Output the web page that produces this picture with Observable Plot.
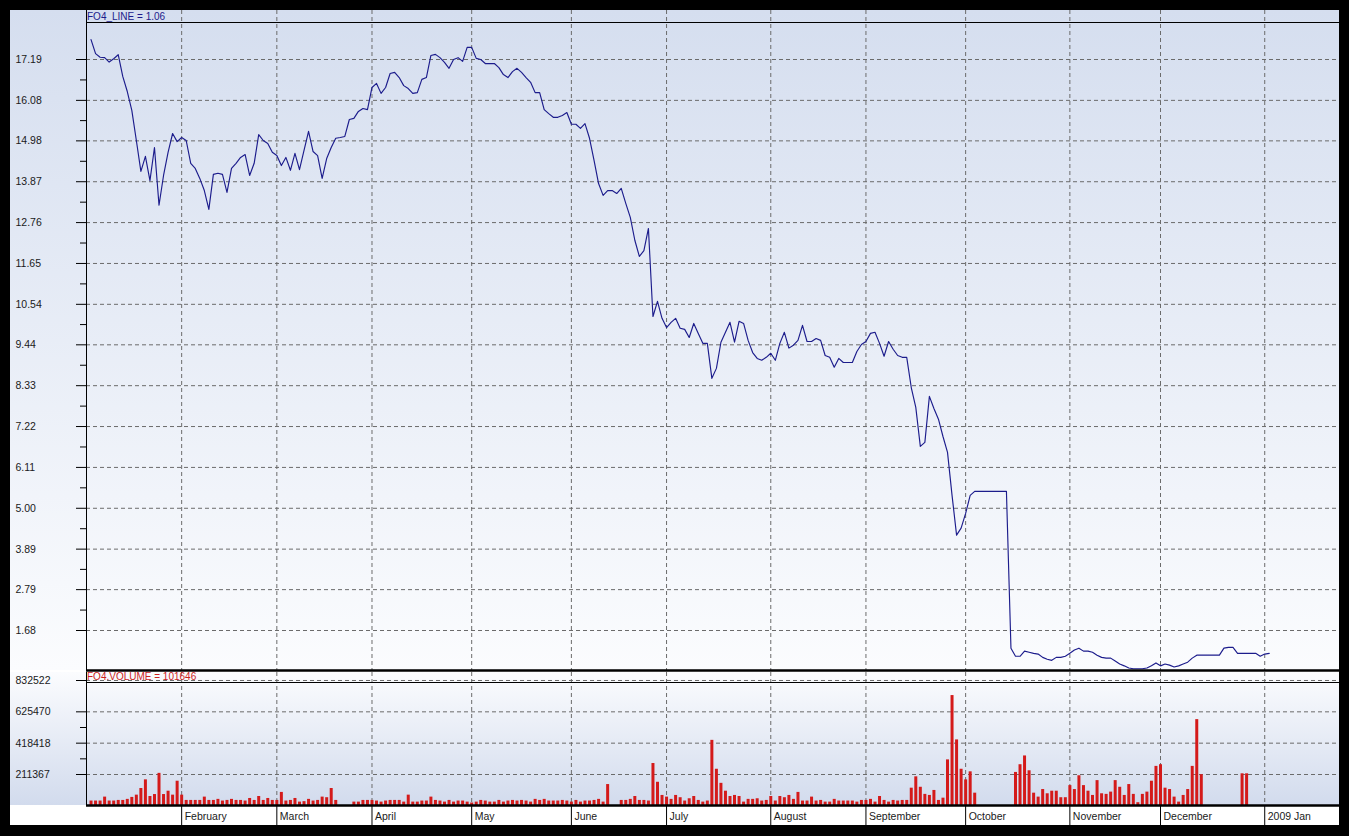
<!DOCTYPE html>
<html>
<head>
<meta charset="utf-8">
<script src="https://cdn.jsdelivr.net/npm/d3@7"></script>
<script src="https://cdn.jsdelivr.net/npm/@observablehq/plot@0.6"></script>
<style>
html,body{margin:0;padding:0;background:#000;width:1349px;height:836px;overflow:hidden;font-family:"Liberation Sans",Arial,sans-serif;}
#frame{position:absolute;left:10px;top:10px;width:1329px;height:815px;}
#pricebg{position:absolute;left:0;top:0;width:1329px;height:660px;background:linear-gradient(#d5deef,#fbfcfe);}
#volbg{position:absolute;left:0;top:662px;width:1329px;height:133px;background:linear-gradient(#fbfcfe,#d2dbed);}
#axisbg{position:absolute;left:0;top:795px;width:1329px;height:20px;background:#fff;}
#sep{position:absolute;left:0;top:660px;width:1329px;height:2px;background:#fff;}
#price{position:absolute;left:0;top:0;}
#vol{position:absolute;left:0;top:662px;}
.hline{position:absolute;left:76px;width:1253px;height:1px;background:#000;}
.head{position:absolute;left:77px;font-size:10px;line-height:10px;white-space:nowrap;}
</style>
</head>
<body>
<div id="frame">
  <div id="pricebg"></div>
  <div id="sep"></div>
  <div id="volbg"></div>
  <div id="axisbg"></div>
  <div id="price"></div>
  <div id="vol"></div>
  <div class="hline" style="top:12px"></div>
  <div class="hline" style="top:672px"></div>
  <div class="head" id="priceHead" style="top:2px;color:#1c1c8c"></div>
  <div class="head" id="volHead" style="top:662px;color:#cc1f1f"></div>
</div>
<script>
// ---------- data ----------
const seriesName = "FO4";
const firstDay = 1; // weekday index of the first point (index 0 = 3 Jan 2008)
const monthStarts = [21, 42, 63, 85, 107, 128, 151, 172, 194, 217, 237, 260];
const monthLabels = ["February","March","April","May","June","July","August","September","October","November","December","2009 Jan"];
const priceTicks = [1.68, 2.79, 3.89, 5.00, 6.11, 7.22, 8.33, 9.44, 10.54, 11.65, 12.76, 13.87, 14.98, 16.08, 17.19];
const volumeTicks = [211367, 418418, 625470, 832522];
const lastLine = 1.06;
const lastVolume = 101646;

const closePrices = [
  17.73, 17.35, 17.25, 17.24, 17.12, 17.21, 17.32, 16.73, 16.32, 15.81,
  14.99, 14.15, 14.56, 13.90, 14.80, 13.23, 14.04, 14.67, 15.18, 14.96,
  15.07, 14.99, 14.37, 14.23, 13.96, 13.63, 13.12, 14.07, 14.10, 14.07,
  13.58, 14.23, 14.37, 14.53, 14.61, 14.04, 14.37, 15.15, 14.99, 14.91,
  14.67, 14.58, 14.31, 14.53, 14.18, 14.64, 14.20, 14.72, 15.24, 14.69,
  14.58, 13.96, 14.50, 14.80, 15.05, 15.07, 15.10, 15.56, 15.59, 15.78,
  15.86, 15.83, 16.43, 16.54, 16.27, 16.43, 16.81, 16.84, 16.70, 16.48,
  16.40, 16.27, 16.29, 16.65, 16.70, 17.30, 17.33, 17.24, 17.11, 16.95,
  17.19, 17.24, 17.14, 17.52, 17.52, 17.22, 17.19, 17.08, 17.08, 17.08,
  16.97, 16.78, 16.70, 16.86, 16.95, 16.84, 16.70, 16.57, 16.29, 16.29,
  15.83, 15.72, 15.62, 15.62, 15.67, 15.75, 15.43, 15.43, 15.32, 15.45,
  15.05, 14.45, 13.82, 13.50, 13.63, 13.63, 13.55, 13.69, 13.28, 12.90,
  12.28, 11.84, 12.00, 12.60, 10.21, 10.62, 10.16, 9.91, 10.05, 10.16,
  9.89, 9.86, 9.64, 10.02, 9.75, 9.48, 9.48, 8.53, 8.80, 9.51,
  9.78, 10.05, 9.51, 10.08, 10.02, 9.56, 9.23, 9.07, 9.02, 9.10,
  9.21, 9.02, 9.48, 9.78, 9.35, 9.43, 9.56, 9.97, 9.53, 9.53,
  9.61, 9.56, 9.15, 9.10, 8.83, 9.07, 8.96, 8.96, 8.96, 9.26,
  9.45, 9.53, 9.75, 9.78, 9.48, 9.13, 9.53, 9.32, 9.15, 9.10,
  9.10, 8.28, 7.74, 6.68, 6.79, 8.04, 7.71, 7.42, 6.95, 6.52,
  5.35, 4.27, 4.46, 4.86, 5.35, 5.46, 5.46, 5.46, 5.46, 5.46,
  5.46, 5.46, 5.46, 1.20, 0.98, 0.98, 1.12, 1.09, 1.06, 1.04,
  0.95, 0.90, 0.87, 0.95, 0.95, 0.98, 1.06, 1.15, 1.20, 1.12,
  1.12, 1.09, 1.01, 0.95, 0.93, 0.93, 0.85, 0.77, 0.72, 0.66,
  0.64, 0.64, 0.64, 0.66, 0.72, 0.80, 0.72, 0.77, 0.74, 0.69,
  0.72, 0.77, 0.82, 0.93, 1.01, 1.01, 1.01, 1.01, 1.01, 1.01,
  1.20, 1.22, 1.22, 1.06, 1.06, 1.06, 1.06, 1.06, 0.98, 1.04,
  1.06
];

const volumes = [
  36000, 36000, 36000, 62000, 36000, 36000, 40000, 40000, 47000, 60000,
  75000, 119000, 176000, 66000, 79000, 219000, 79000, 101000, 75000, 167000,
  75000, 40000, 40000, 40000, 40000, 62000, 40000, 40000, 47000, 36000,
  40000, 47000, 40000, 40000, 36000, 53000, 40000, 66000, 40000, 53000,
  40000, 40000, 93000, 36000, 40000, 53000, 29000, 32000, 47000, 36000,
  40000, 62000, 58000, 119000, 40000, 0, 0, 0, 29000, 29000,
  40000, 40000, 40000, 36000, 29000, 36000, 40000, 40000, 40000, 29000,
  75000, 29000, 29000, 36000, 36000, 62000, 40000, 36000, 29000, 40000,
  29000, 36000, 36000, 29000, 23000, 29000, 40000, 36000, 29000, 29000,
  40000, 29000, 36000, 40000, 36000, 40000, 36000, 29000, 47000, 40000,
  47000, 36000, 36000, 36000, 40000, 36000, 29000, 40000, 29000, 36000,
  36000, 40000, 47000, 29000, 145000, 0, 0, 40000, 40000, 47000,
  66000, 40000, 40000, 36000, 284000, 160000, 73000, 62000, 47000, 73000,
  58000, 36000, 51000, 66000, 40000, 29000, 36000, 437000, 246000, 153000,
  101000, 66000, 73000, 66000, 29000, 47000, 47000, 51000, 36000, 40000,
  66000, 36000, 66000, 58000, 73000, 47000, 93000, 36000, 36000, 62000,
  36000, 40000, 29000, 29000, 47000, 36000, 36000, 36000, 36000, 29000,
  40000, 40000, 47000, 29000, 66000, 40000, 29000, 40000, 36000, 40000,
  40000, 121000, 196000, 127000, 80000, 73000, 106000, 40000, 55000, 308000,
  733000, 440000, 246000, 176000, 229000, 88000, 0, 0, 0, 0,
  0, 0, 0, 0, 225000, 276000, 334000, 236000, 88000, 62000,
  112000, 84000, 101000, 101000, 58000, 58000, 138000, 112000, 203000, 138000,
  101000, 73000, 171000, 84000, 80000, 95000, 171000, 127000, 73000, 145000,
  80000, 25000, 80000, 95000, 167000, 265000, 276000, 121000, 112000, 62000,
  29000, 73000, 112000, 265000, 574000, 210000, 0, 0, 0, 0,
  0, 0, 0, 0, 216000, 216000, 0, 0, 0, 0,
  0
];

// ---------- table ----------
const days = closePrices.map((c, i) => ({day: i + firstDay, close: c, volume: volumes[i]}));
const months = monthStarts.map((s, i) => ({day: s, label: monthLabels[i]}));
const priceMinor = d3.pairs(priceTicks).map(([a, b]) => (a + b) / 2);
const volumeMinor = d3.pairs(volumeTicks.slice(0, 3)).map(([a, b]) => (a + b) / 2);

// ---------- scales ----------
const xDomain = [0, 276.5];
const priceDomain = [0.5935, 18.521];
const volumeDomain = [6519, 885386];

const gridStyle = {stroke: "#6b6b6b", strokeDasharray: "4,3", strokeWidth: 1};
const font = {background: "transparent", overflow: "visible", fontFamily: "'Liberation Sans', Arial, sans-serif", fontSize: "10.5px", color: "#1a1a1a"};
const blank = () => "";

const price = Plot.plot({
  width: 1329, height: 660,
  marginLeft: 76, marginRight: 0, marginTop: 0, marginBottom: 0,
  style: font,
  x: {domain: xDomain, axis: null, label: null},
  y: {domain: priceDomain, axis: null, label: null},
  marks: [
    Plot.ruleY(priceTicks, gridStyle),
    Plot.ruleX(monthStarts, gridStyle),
    Plot.axisY({ticks: priceTicks, tickSize: 10, tickFormat: blank, stroke: "#000", label: null}),
    Plot.axisY({ticks: priceMinor, tickSize: 6, tickFormat: blank, stroke: "#000", label: null}),
    Plot.text(priceTicks, {y: d => d, text: d => d.toFixed(2), frameAnchor: "left", dx: -71, textAnchor: "start", fill: "#1a1a1a"}),
    Plot.ruleX([xDomain[0]], {stroke: "#000"}),
    Plot.line(days, {x: "day", y: "close", stroke: "#1c1c8c", strokeWidth: 1.15}),
    Plot.ruleY([priceDomain[0]], {stroke: "#000", strokeWidth: 2.5})
  ]
});
document.getElementById("price").append(price);

const vol = Plot.plot({
  width: 1329, height: 153,
  marginLeft: 76, marginRight: 0, marginTop: 0, marginBottom: 20,
  style: font,
  x: {domain: xDomain, axis: null, label: null},
  y: {domain: volumeDomain, axis: null, clamp: true, label: null},
  marks: [
    Plot.ruleY(volumeTicks, gridStyle),
    Plot.ruleX(monthStarts, gridStyle),
    Plot.axisY({ticks: volumeTicks, tickSize: 10, tickFormat: blank, stroke: "#000", label: null}),
    Plot.axisY({ticks: volumeMinor, tickSize: 6, tickFormat: blank, stroke: "#000", label: null}),
    Plot.text(volumeTicks, {y: d => d, text: d => String(d), frameAnchor: "left", dx: -71, textAnchor: "start", fill: "#1a1a1a"}),
    Plot.ruleX([xDomain[0]], {stroke: "#000"}),
    Plot.ruleX(days.filter(d => d.volume > 0), {x: "day", y1: 0, y2: "volume", stroke: "#d41a1a", strokeWidth: 3}),
    Plot.ruleY([volumeDomain[0]], {stroke: "#000", strokeWidth: 2.5}),
    Plot.axisX({ticks: monthStarts, tickSize: 20, tickFormat: blank, stroke: "#000", label: null}),
    Plot.text(months, {x: "day", text: "label", frameAnchor: "bottom", dy: 14, dx: 3, textAnchor: "start", lineAnchor: "bottom", fill: "#1a1a1a", fontSize: 10.5})
  ]
});
document.getElementById("vol").append(vol);

document.getElementById("priceHead").textContent = `${seriesName}_LINE = ${lastLine.toFixed(2)}`;
document.getElementById("volHead").textContent = `${seriesName}.VOLUME = ${lastVolume}`;
</script>
</body>
</html>
